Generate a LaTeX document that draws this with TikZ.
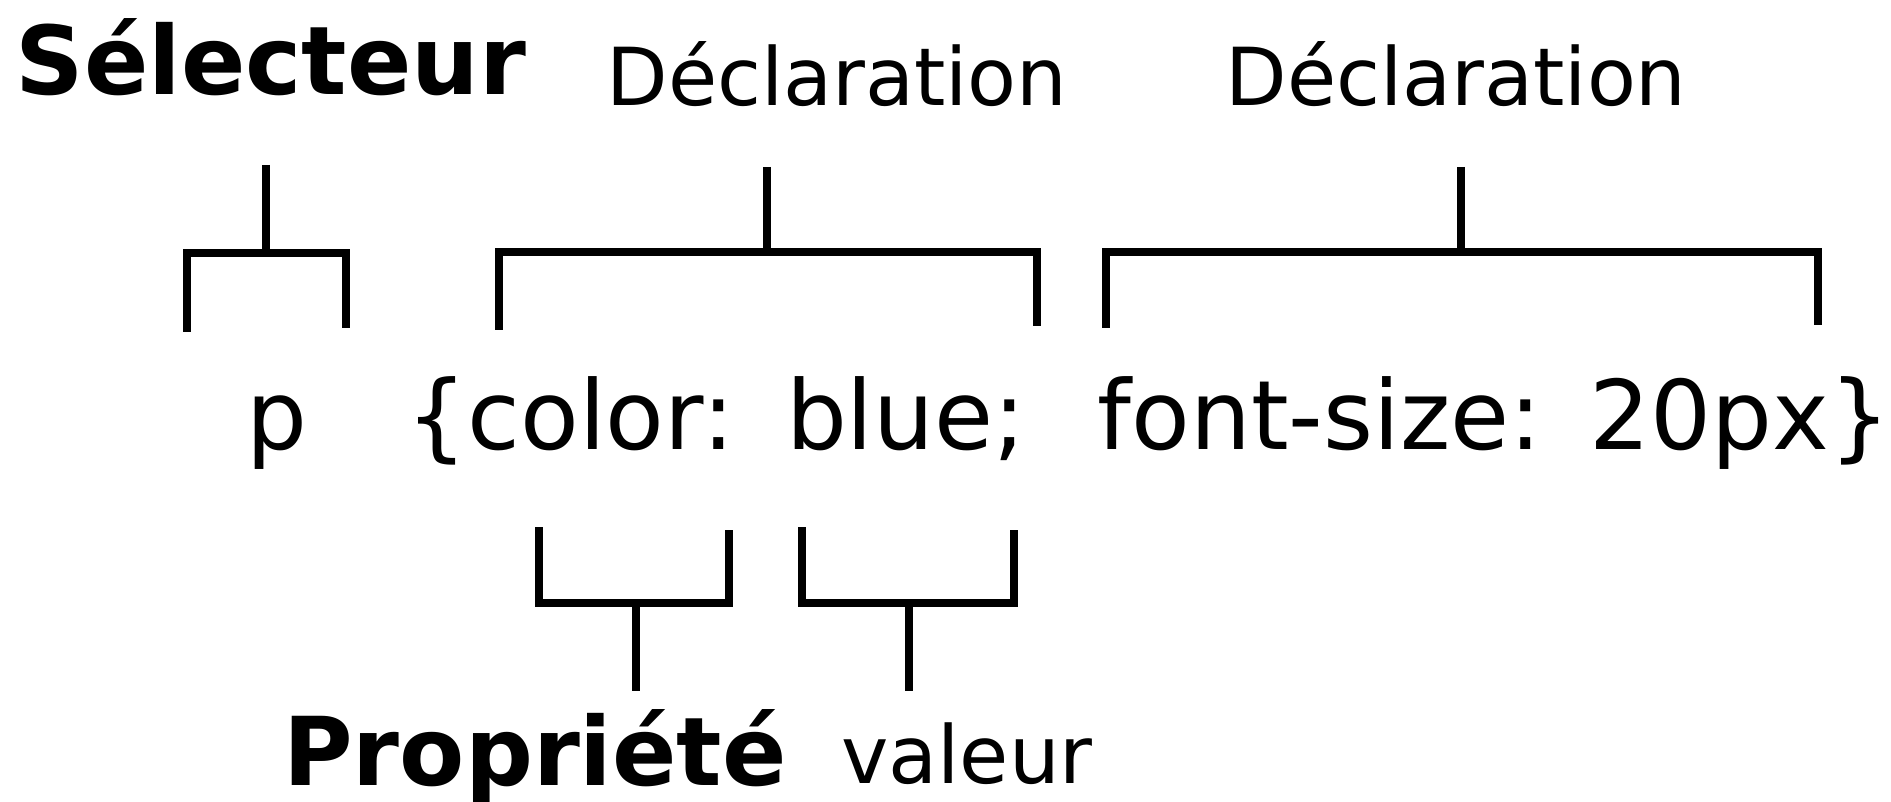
\documentclass[tikz,border=0pt]{standalone}
\usepackage{fontspec}
\setmainfont{DejaVu Sans}
\begin{document}
\begin{tikzpicture}[x=1pt,y=-1pt,
  lbl/.style={inner sep=0pt,anchor=base,font=\fontsize{80}{96}\selectfont},
  lblbold/.style={inner sep=0pt,anchor=base,font=\fontsize{95}{114}\selectfont\bfseries},
  code/.style={inner sep=0pt,anchor=base west,font=\fontsize{96}{115}\selectfont},
  brk/.style={line width=8pt,line join=miter,line cap=butt},
  stem/.style={line width=7.5pt,line cap=butt}]
\useasboundingbox (0,0) rectangle (1891,802);

% labels above
\node[lblbold] (sel) at (271,95) {Sélecteur};
\node[lbl] (decl1) at (837,106) {Déclaration};
\node[lbl] (decl2) at (1456,106) {Déclaration};

% the CSS rule
\node[code] (rule) at (246,449)
  {p\hspace{99.5pt}\{color:\hspace{10.5pt} blue;\hspace{72pt}font-size:\hspace{7pt} 20px\}};

% labels below
\node[lblbold] (prop) at (535,785) {Propriété};
\node[lbl] (val) at (967,783) {valeur};

% brackets over the rule
\coordinate (selT) at (266,165);  \coordinate (selB) at (266,253);
\draw[brk] (187,332) |- (346,253) -- (346,328);
\draw[stem] (selT) -- (selB);

\coordinate (d1T) at (767,167);  \coordinate (d1B) at (767,252);
\draw[brk] (499,330) |- (1037,252) -- (1037,326);
\draw[stem] (d1T) -- (d1B);

\coordinate (d2T) at (1461,167);  \coordinate (d2B) at (1461,252);
\draw[brk] (1106,328) |- (1818,252) -- (1818,325);
\draw[stem] (d2T) -- (d2B);

% brackets under the rule
\coordinate (prT) at (636,603);  \coordinate (prB) at (636,691);
\draw[brk] (539,527) |- (729,603) -- (729,530);
\draw[stem] (prT) -- (prB);

\coordinate (vaT) at (909,603);  \coordinate (vaB) at (909,691);
\draw[brk] (802,527) |- (1014,603) -- (1014,530);
\draw[stem] (vaT) -- (vaB);
\end{tikzpicture}
\end{document}
